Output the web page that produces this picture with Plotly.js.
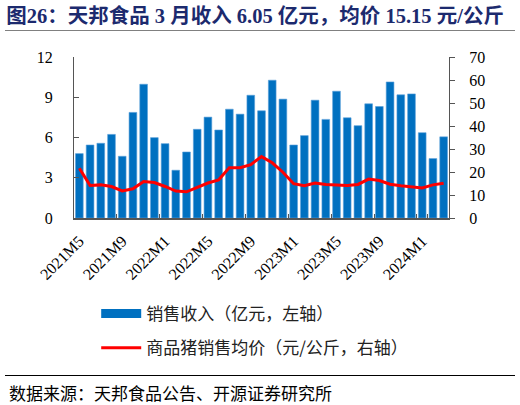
<!DOCTYPE html>
<html>
<head>
<meta charset="utf-8">
<script src="https://cdn.plot.ly/plotly-3.0.1.min.js"></script>
<style>
  html, body { margin: 0; padding: 0; background: #fff; }
  #wrap { position: relative; width: 520px; height: 405px; }
  #chart { width: 520px; height: 405px; }
  .rule { position: absolute; left: 5px; width: 510px; pointer-events: none; }
  #rule-top { top: 30px; border-top: 1.5px solid #808080; }
  #rule-bottom { top: 375px; border-top: 1px solid #000; }
</style>
</head>
<body>
<div id="wrap">
  <div id="chart"></div>
  <div class="rule" id="rule-top"></div>
  <div class="rule" id="rule-bottom"></div>
</div>
<script>
// 月份 2021M5 - 2024M3
var months = [
  '2021M5', '2021M6', '2021M7', '2021M8', '2021M9', '2021M10', '2021M11', '2021M12',
  '2022M1', '2022M2', '2022M3', '2022M4', '2022M5', '2022M6', '2022M7', '2022M8',
  '2022M9', '2022M10', '2022M11', '2022M12', '2023M1', '2023M2', '2023M3', '2023M4',
  '2023M5', '2023M6', '2023M7', '2023M8', '2023M9', '2023M10', '2023M11', '2023M12',
  '2024M1', '2024M2', '2024M3'
];
// 销售收入（亿元）
var revenue = [
  4.80, 5.44, 5.57, 6.23, 4.60, 7.87, 9.97, 5.99,
  5.54, 3.56, 4.92, 6.61, 7.52, 6.56, 8.11, 7.74,
  9.15, 7.99, 10.27, 8.86, 5.44, 6.14, 8.78, 7.35,
  9.45, 7.47, 6.88, 8.51, 8.31, 10.14, 9.18, 9.25,
  6.36, 4.43, 6.05
];
// 商品猪销售均价（元/公斤）
var price = [
  21.6, 14.1, 14.4, 13.7, 11.8, 12.7, 15.9, 15.4,
  13.7, 11.7, 11.4, 13.3, 15.2, 16.6, 21.9, 21.9,
  23.2, 26.7, 24.0, 19.9, 14.9, 14.0, 15.2, 14.6,
  14.4, 14.1, 14.6, 16.9, 16.3, 14.7, 14.0, 13.4,
  13.1, 14.4, 15.15
];
var xTicks = ['2021M5', '2021M9', '2022M1', '2022M5', '2022M9', '2023M1', '2023M5', '2023M9', '2024M1'];
var leftTicks = [0, 3, 6, 9, 12];
var rightTicks = [0, 10, 20, 30, 40, 50, 60, 70];

var FONT = 'Liberation Serif, "Times New Roman", "Noto Sans CJK SC", serif';
var CJK = '"Noto Sans CJK SC", sans-serif';
var BLUE = '#0070C0';

var data = [
  {
    type: 'bar',
    name: '销售收入（亿元，左轴）',
    x: months,
    y: revenue,
    marker: { color: BLUE, line: { color: '#5AA0DA', width: 0.6 } },
    showlegend: false,
    hoverinfo: 'x+y'
  },
  // legend entry only: wide blue block like the original
  {
    type: 'scatter',
    mode: 'lines',
    name: '销售收入（亿元，左轴）',
    x: [null],
    y: [null],
    line: { color: BLUE, width: 9 },
    legendgroup: 'a',
    hoverinfo: 'skip'
  },
  {
    type: 'scatter',
    mode: 'lines',
    name: '商品猪销售均价（元/公斤，右轴）',
    x: months,
    y: price,
    yaxis: 'y2',
    line: { color: '#FF0000', width: 3 },
    legendgroup: 'b',
    hoverinfo: 'x+y'
  }
];

var layout = {
  width: 520,
  height: 405,
  margin: { l: 74, r: 71, t: 57, b: 187, autoexpand: false },
  paper_bgcolor: '#fff',
  plot_bgcolor: '#fff',
  bargap: 0.28,
  showlegend: true,
  title: {
    text: '<b>图26：天邦食品 3 月收入 6.05 亿元，均价 15.15 元/公斤</b>',
    font: { family: FONT, size: 20.5, color: '#1C2A6E' },
    xref: 'container', yref: 'container',
    x: 0.012, xanchor: 'left',
    y: 1 - 16 / 405, yanchor: 'middle'
  },
  xaxis: {
    type: 'category',
    tickmode: 'array',
    tickvals: xTicks,
    ticktext: xTicks,
    tickangle: -45,
    tickson: 'boundaries',
    ticks: 'inside',
    ticklen: 4,
    tickcolor: '#555',
    showline: true,
    linecolor: '#555',
    linewidth: 1.5,
    showgrid: false,
    zeroline: false,
    tickfont: { family: FONT, size: 16, color: '#000' },
    ticklabelstandoff: 6,
    automargin: false
  },
  yaxis: {
    range: [0, 12],
    tickmode: 'array',
    tickvals: leftTicks,
    ticks: 'inside',
    ticklen: 5,
    tickcolor: '#555',
    showline: true,
    linecolor: '#555',
    linewidth: 1,
    showgrid: false,
    zeroline: false,
    tickfont: { family: FONT, size: 16, color: '#000' },
    ticklabelstandoff: 17,
    automargin: false
  },
  yaxis2: {
    overlaying: 'y',
    side: 'right',
    range: [0, 70],
    tickmode: 'array',
    tickvals: rightTicks,
    ticks: 'outside',
    ticklen: 5,
    tickcolor: '#555',
    showline: true,
    linecolor: '#555',
    linewidth: 1,
    showgrid: false,
    zeroline: false,
    tickfont: { family: FONT, size: 16, color: '#000' },
    ticklabelstandoff: 11,
    automargin: false
  },
  legend: {
    xref: 'container', yref: 'container',
    x: 0.185, xanchor: 'left',
    y: 1 - 296 / 405, yanchor: 'top',
    traceorder: 'grouped',
    tracegroupgap: 9,
    itemwidth: 40,
    font: { family: CJK, size: 17, color: '#222' },
    bgcolor: 'rgba(0,0,0,0)'
  },
  annotations: [
    {
      text: '数据来源：天邦食品公告、开源证券研究所',
      xref: 'paper', yref: 'paper',
      x: -0.18, xanchor: 'left',
      y: -174 / 161, yanchor: 'middle',
      showarrow: false,
      font: { family: CJK, size: 17, color: '#000' }
    }
  ]
};

Plotly.newPlot('chart', data, layout, { displayModeBar: false, staticPlot: true });
</script>
</body>
</html>
